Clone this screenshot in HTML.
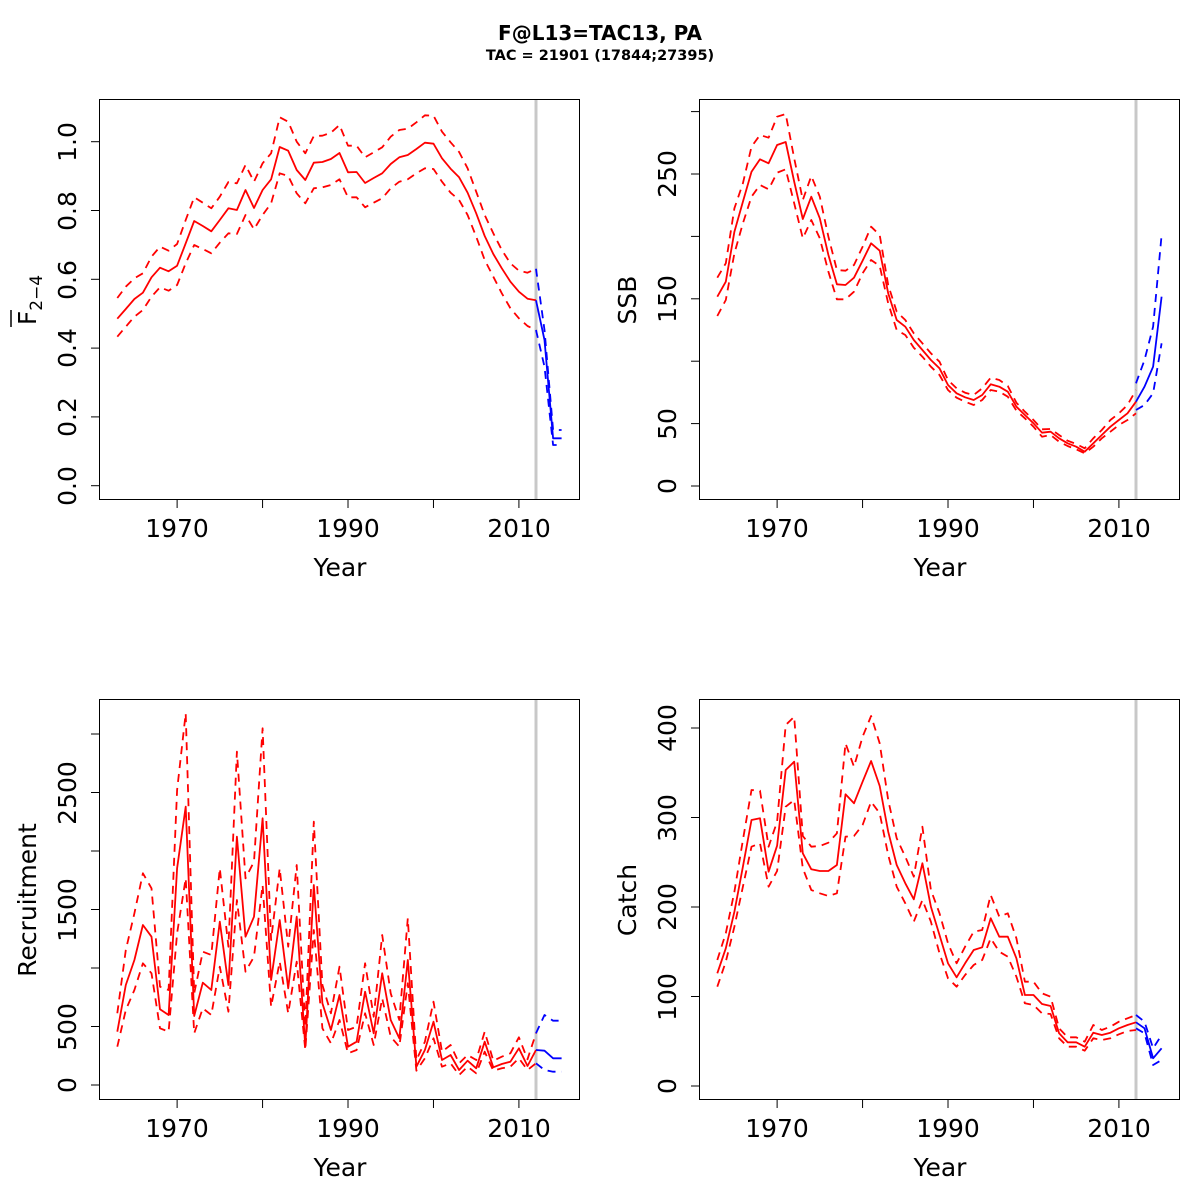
<!DOCTYPE html>
<html><head><meta charset="utf-8"><style>
html,body{margin:0;padding:0;background:#fff;}
svg{display:block;font-family:"DejaVu Sans","Liberation Sans",sans-serif;}
</style></head><body>
<svg id="s" width="1200" height="1200" viewBox="0 0 1200 1200">
<rect width="1200" height="1200" fill="#fff"/>
<text x="600" y="40" text-anchor="middle" font-size="20" font-weight="bold">F@L13=TAC13, PA</text>
<text x="600" y="60" text-anchor="middle" font-size="14.5" font-weight="bold">TAC = 21901 (17844;27395)</text>
<g id="axes" stroke="#000" stroke-width="1" fill="none">
<rect x="99.5" y="99.5" width="480" height="400"/>
<rect x="699.5" y="99.5" width="480" height="400"/>
<rect x="99.5" y="699.5" width="480" height="400"/>
<rect x="699.5" y="699.5" width="480" height="400"/>
</g>
<g id="ticks" stroke="#000" stroke-width="1"></g>
<g font-size="25" text-anchor="middle">
<text x="177" y="537">1970</text><text x="348" y="537">1990</text><text x="519" y="537">2010</text>
<text x="777" y="537">1970</text><text x="948" y="537">1990</text><text x="1119" y="537">2010</text>
<text x="177" y="1137">1970</text><text x="348" y="1137">1990</text><text x="519" y="1137">2010</text>
<text x="777" y="1137">1970</text><text x="948" y="1137">1990</text><text x="1119" y="1137">2010</text>
<text x="340" y="576">Year</text><text x="940" y="576">Year</text>
<text x="340" y="1176">Year</text><text x="940" y="1176">Year</text>
<text transform="translate(76,486) rotate(-90)">0.0</text>
<text transform="translate(76,417) rotate(-90)">0.2</text>
<text transform="translate(76,348) rotate(-90)">0.4</text>
<text transform="translate(76,280) rotate(-90)">0.6</text>
<text transform="translate(76,211) rotate(-90)">0.8</text>
<text transform="translate(76,142) rotate(-90)">1.0</text>
<text transform="translate(676,486) rotate(-90)">0</text>
<text transform="translate(676,424) rotate(-90)">50</text>
<text transform="translate(676,299) rotate(-90)">150</text>
<text transform="translate(676,174) rotate(-90)">250</text>
<text transform="translate(636,300) rotate(-90)">SSB</text>
<text transform="translate(76,1085) rotate(-90)">0</text>
<text transform="translate(76,1027) rotate(-90)">500</text>
<text transform="translate(76,910) rotate(-90)">1500</text>
<text transform="translate(76,793) rotate(-90)">2500</text>
<text transform="translate(36,900) rotate(-90)">Recruitment</text>
<text transform="translate(676,1086) rotate(-90)">0</text>
<text transform="translate(676,997) rotate(-90)">100</text>
<text transform="translate(676,907) rotate(-90)">200</text>
<text transform="translate(676,818) rotate(-90)">300</text>
<text transform="translate(676,728) rotate(-90)">400</text>
<text transform="translate(636,900) rotate(-90)">Catch</text>
<text transform="translate(36,300) rotate(-90)" text-anchor="middle"><tspan>F</tspan><tspan font-size="17" dy="6">2−4</tspan></text>
</g>
<line x1="11" y1="327" x2="11" y2="310" stroke="#000" stroke-width="1.5"/>
<g id="lines" fill="none"></g>
</svg>
<script>
var NS="http://www.w3.org/2000/svg";
function el(p,t,a){var e=document.createElementNS(NS,t);for(var k in a)e.setAttribute(k,a[k]);p.appendChild(e);return e;}
var T=document.getElementById('ticks'),L=document.getElementById('lines');
var xs=[1970,1980,1990,2000,2010];
[[0,0],[600,0],[0,600],[600,600]].forEach(function(o){
 xs.forEach(function(y){var x=117.3+8.545*(y-1963)+o[0];el(T,'line',{x1:x,x2:x,y1:500+o[1],y2:508+o[1]});});
 el(L,'line',{x1:536+o[0],x2:536+o[0],y1:100+o[1],y2:499+o[1],stroke:'#c8c8c8','stroke-width':3});
});
function yt(ox,arr){arr.forEach(function(y){el(T,'line',{x1:ox+91,x2:ox+99.5,y1:y,y2:y});});}
yt(0,[485.7,416.9,348.1,279.3,210.5,141.7]);
yt(600,[486,423.6,361.2,298.8,236.4,174,111.6]);
yt(0,[1085,1026.5,968,909.5,851,792.5,734]);
yt(600,[1086,996.5,907,817.5,728]);
function poly(ox,oy,start,arr,col,dash){
 var pts=arr.map(function(z,i){return (117.3+8.545*(start+i)+ox).toFixed(1)+','+(oy+z/3).toFixed(1);}).join(' ');
 var a={points:pts,stroke:col,'stroke-width':1.8,'stroke-linejoin':'round'};
 if(dash)a['stroke-dasharray']='8,6';
 el(L,'polyline',a);
}
var D=[
[0,100,
[656,627,597,578,532,503,514,497,430,363,378,394,360,325,330,270,324,270,238,141,152,210,240,188,186,177,159,217,216,249,234,220,192,172,165,147,128,131,175,206,232,278,340,408,462,505,545,575,596,601],
[594,560,535,520,470,440,452,432,360,292,308,325,290,246,250,195,245,190,160,52,65,125,160,108,107,98,75,137,137,172,157,142,110,90,86,67,46,47,95,127,156,205,275,345,400,450,490,512,518,506],
[710,680,650,630,590,562,572,555,490,435,447,460,428,400,402,345,388,345,310,220,228,280,310,265,262,255,238,292,292,322,308,295,265,245,238,220,205,207,245,278,300,345,410,480,530,580,625,655,678,690],
[601,720,1015,1015],[506,690,990,990],[690,800,1035,1035]],
[600,100,
[590,545,395,305,215,178,190,135,126,245,357,290,355,465,553,555,533,482,430,452,580,660,680,720,750,780,805,855,880,892,900,885,853,860,875,920,945,970,998,995,1015,1030,1040,1055,1030,1005,980,960,940,905],
[533,490,325,250,140,105,113,50,42,175,300,228,290,410,510,512,495,440,380,405,555,635,660,700,730,760,785,840,865,878,885,865,833,840,858,908,935,960,988,987,1005,1022,1032,1045,1015,990,960,940,915,870],
[648,600,460,370,290,255,268,218,208,310,415,360,415,515,598,598,575,520,480,498,610,690,705,743,770,800,825,870,893,905,915,900,870,875,890,932,955,980,1010,1005,1025,1038,1048,1060,1040,1015,995,975,960,940],
[905,860,800,590],[850,780,680,405],[930,915,880,730]],
[0,700,
[995,855,780,675,710,928,945,505,320,948,848,870,665,855,410,710,650,355,840,660,865,650,1040,555,910,990,885,1040,1025,875,1000,820,960,1015,780,1100,1050,965,1080,1065,1110,1082,1105,1025,1102,1092,1085,1045,1098,1050],
[940,750,640,520,565,860,870,270,40,880,755,765,505,740,155,535,485,85,720,505,740,495,980,365,855,940,800,990,980,790,950,705,880,960,655,1080,1025,905,1055,1035,1090,1065,1080,995,1082,1070,1060,1012,1078,1000],
[1040,930,870,790,820,985,995,700,535,1000,925,945,800,935,600,815,770,555,920,785,940,785,1050,690,985,1030,960,1060,1050,940,1035,895,1010,1040,850,1112,1075,1015,1100,1090,1125,1100,1120,1055,1112,1105,1100,1075,1110,1090],
[1050,1052,1075,1075],[1000,945,962,962],[1090,1110,1115,1115]],
[600,700,
[820,745,635,500,360,355,515,437,210,185,460,508,513,513,495,283,310,245,183,258,395,495,550,598,490,620,705,790,832,790,750,742,655,710,710,775,885,885,912,918,1000,1027,1027,1040,998,1005,998,985,975,967],
[780,700,575,420,270,272,440,365,75,50,408,440,438,428,400,130,200,110,48,130,300,415,470,530,380,570,640,730,790,740,695,690,585,650,640,715,845,845,880,890,985,1012,1012,1025,975,990,980,965,955,945],
[860,785,680,560,440,430,560,513,320,300,505,570,580,588,580,410,408,375,305,340,465,560,610,665,600,665,760,835,860,825,795,780,715,755,770,830,910,915,940,942,1015,1040,1040,1052,1015,1020,1015,1003,993,990],
[967,985,1075,1045],[945,965,1045,1005],[985,1000,1095,1080]]
];
D.forEach(function(d){
 poly(d[0],d[1],0,d[2],'#ff0000',false);
 poly(d[0],d[1],0,d[3],'#ff0000',true);
 poly(d[0],d[1],0,d[4],'#ff0000',true);
 poly(d[0],d[1],49,d[5],'#0000ff',false);
 poly(d[0],d[1],49,d[6],'#0000ff',true);
 poly(d[0],d[1],49,d[7],'#0000ff',true);
});
</script>
</body></html>
